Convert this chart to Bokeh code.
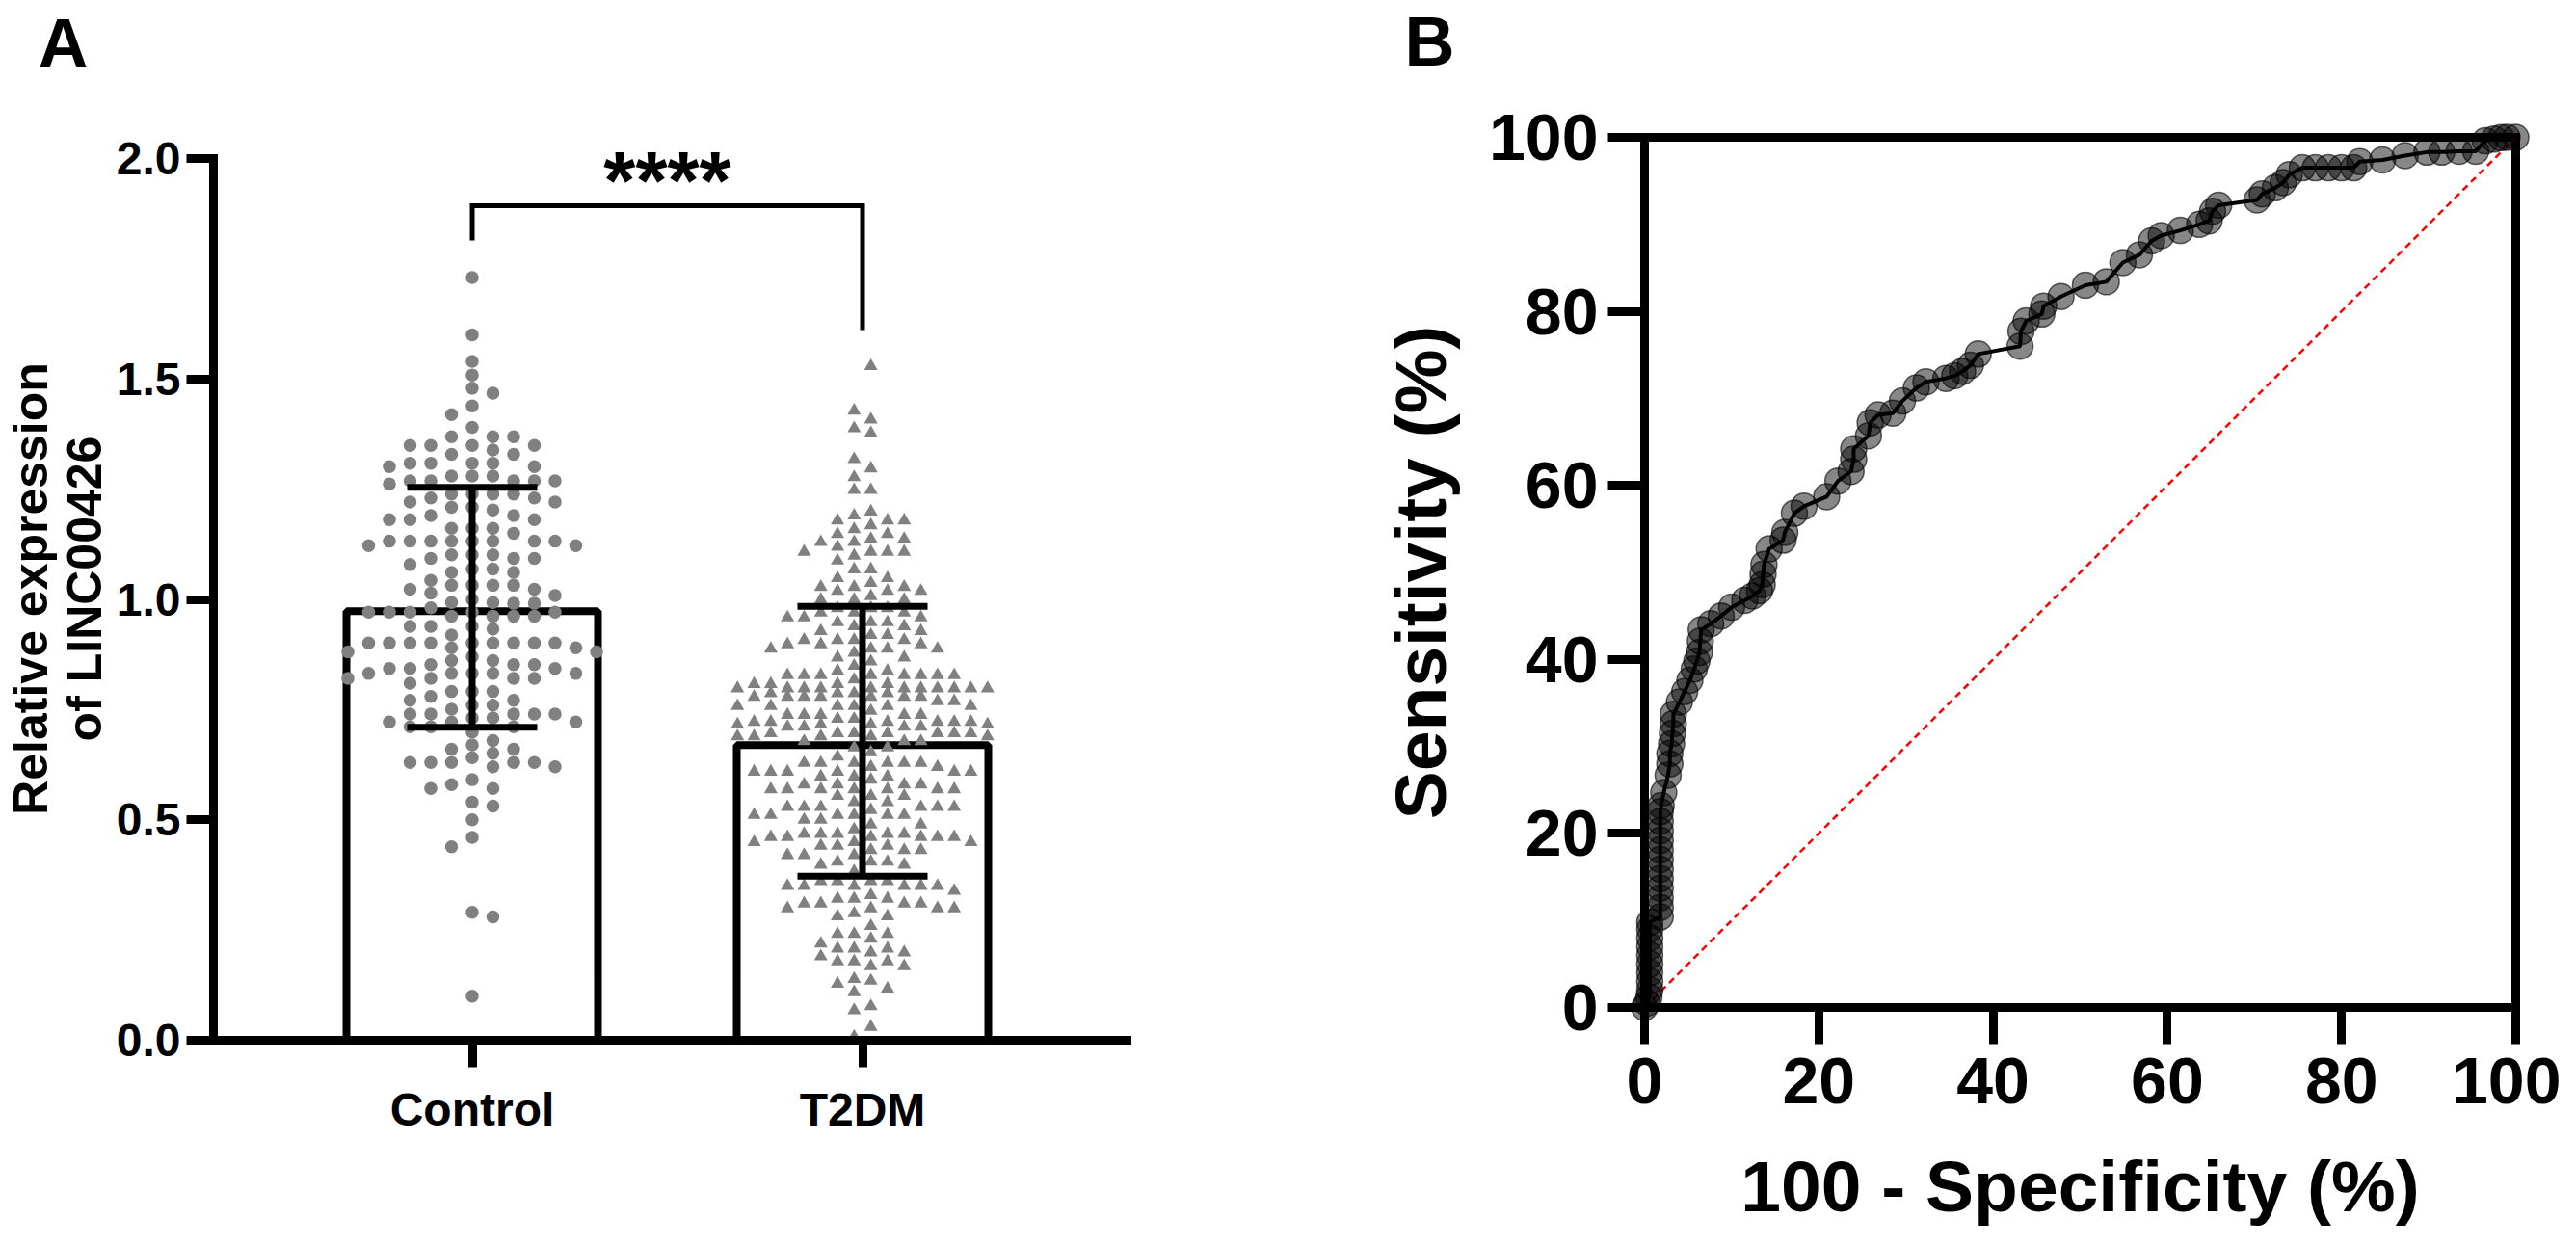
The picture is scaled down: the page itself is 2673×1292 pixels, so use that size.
import math
import numpy as np
from bokeh.plotting import figure
from bokeh.models import FixedTicker, Label, Range1d, PrintfTickFormatter, Title
from bokeh.layouts import row, column
from bokeh.embed import file_html
from bokeh.resources import INLINE

FONT = "Liberation Sans"

# ---------------- data ----------------
categories = ["Control", "T2DM"]

control_values = [
    1.730, 1.600, 1.540, 1.509, 1.479, 1.468, 1.439, 1.419, 1.390,
    1.369, 1.369, 1.369,
    1.349, 1.349, 1.349, 1.349,
    1.339,
    1.329, 1.329,
    1.309, 1.309, 1.309, 1.309,
    1.301, 1.301,
    1.280, 1.280, 1.280,
    1.269, 1.269, 1.269, 1.269, 1.269,
    1.262,
    1.239, 1.239, 1.239, 1.239,
    1.230, 1.230,
    1.221, 1.221,
    1.209, 1.209,
    1.203,
    1.190, 1.190,
    1.181, 1.181, 1.181,
    1.161, 1.161, 1.161,
    1.150,
    1.132, 1.132, 1.132, 1.132, 1.132, 1.132, 1.132, 1.132,
    1.122, 1.122,
    1.101, 1.101, 1.101,
    1.093, 1.093, 1.093,
    1.079,
    1.069, 1.069,
    1.061, 1.061,
    1.043,
    1.032, 1.032, 1.032, 1.032,
    1.023, 1.023,
    1.014, 1.009, 1.000,
    0.993, 0.993, 0.991, 0.991,
    0.981,
    0.971, 0.971, 0.971, 0.971, 0.971,
    0.962, 0.962, 0.962, 0.962,
    0.939, 0.939, 0.939,
    0.933, 0.919,
    0.901, 0.901, 0.901, 0.901, 0.901, 0.901, 0.901, 0.901, 0.901,
    0.890, 0.890,
    0.881, 0.881,
    0.870,
    0.861, 0.861,
    0.852, 0.852, 0.852,
    0.843, 0.843, 0.843,
    0.832, 0.832, 0.832, 0.832, 0.832,
    0.821, 0.821, 0.821, 0.821,
    0.810,
    0.791, 0.791, 0.791,
    0.780,
    0.771, 0.771,
    0.760, 0.760,
    0.751,
    0.740, 0.740, 0.740, 0.740, 0.740,
    0.731, 0.731,
    0.722, 0.722, 0.722,
    0.711, 0.711, 0.711,
    0.699, 0.680, 0.670, 0.660, 0.660, 0.651, 0.641,
    0.630, 0.630, 0.630, 0.630, 0.630,
    0.620, 0.620,
    0.591, 0.580, 0.571, 0.571, 0.540, 0.531, 0.500, 0.460, 0.439,
    0.290, 0.280, 0.100,
]

t2dm_values = [
    1.529, 1.428, 1.408, 1.388, 1.377, 1.318, 1.297, 1.277,
    1.248, 1.248, 1.199, 1.190,
    1.179, 1.179, 1.179, 1.168, 1.159,
    1.148, 1.148, 1.137, 1.137, 1.130, 1.130, 1.119,
    1.108, 1.108, 1.108, 1.108, 1.099, 1.088,
    1.068, 1.068, 1.048, 1.048, 1.037,
    1.028, 1.028, 1.028, 1.019, 1.019, 1.019, 1.007,
    0.999, 0.999, 0.999, 0.980, 0.980, 0.980,
    0.970, 0.970, 0.970, 0.959, 0.959, 0.959,
    0.948, 0.948, 0.948, 0.939, 0.939, 0.928, 0.928,
    0.919, 0.919, 0.908, 0.908, 0.908, 0.908,
    0.898, 0.898, 0.898, 0.888, 0.888, 0.888, 0.888,
    0.879, 0.868, 0.868, 0.859, 0.849, 0.838, 0.838,
    0.828, 0.828, 0.828, 0.828, 0.828, 0.828, 0.828, 0.828,
    0.818, 0.808, 0.808, 0.808, 0.808, 0.798, 0.798,
    0.798, 0.798, 0.798, 0.798, 0.798, 0.798, 0.798, 0.798, 0.798,
    0.787, 0.787, 0.787, 0.787,
    0.779, 0.779, 0.779, 0.779, 0.779, 0.779, 0.779,
    0.769, 0.769,
    0.758, 0.758, 0.758, 0.758, 0.758, 0.758,
    0.747,
    0.738, 0.738, 0.738, 0.738, 0.738,
    0.729, 0.729,
    0.722, 0.722, 0.722, 0.722, 0.722, 0.722,
    0.716, 0.716, 0.716, 0.716,
    0.711, 0.711, 0.711, 0.711,
    0.696, 0.696, 0.696, 0.696, 0.696, 0.696, 0.696,
    0.689, 0.689, 0.689, 0.689, 0.689,
    0.678, 0.678, 0.678,
    0.664, 0.664, 0.653, 0.643,
    0.629, 0.629, 0.629, 0.629, 0.629, 0.629,
    0.620, 0.620,
    0.609, 0.609, 0.609, 0.609, 0.609, 0.609,
    0.598, 0.598, 0.598, 0.591,
    0.580, 0.580, 0.580, 0.580,
    0.569, 0.569, 0.569, 0.569, 0.569, 0.569, 0.569,
    0.554, 0.554, 0.554, 0.540, 0.540,
    0.529, 0.529, 0.529, 0.529, 0.529, 0.529, 0.522,
    0.511, 0.511, 0.511, 0.511, 0.511, 0.511,
    0.500, 0.500, 0.489, 0.489, 0.478,
    0.468, 0.468, 0.468, 0.468, 0.468,
    0.461, 0.461, 0.461, 0.461, 0.461, 0.461,
    0.449, 0.449, 0.449, 0.441, 0.441, 0.441,
    0.431, 0.431, 0.431, 0.420, 0.420, 0.420,
    0.405, 0.405, 0.405, 0.398, 0.398, 0.383,
    0.361, 0.361, 0.361, 0.361,
    0.350, 0.350, 0.350, 0.350, 0.350, 0.350,
    0.339, 0.329, 0.321, 0.321, 0.321,
    0.310, 0.310, 0.310, 0.310,
    0.299, 0.299, 0.299, 0.299, 0.288, 0.281, 0.281,
    0.259, 0.241, 0.241, 0.241, 0.230, 0.219,
    0.208, 0.208, 0.208, 0.199, 0.199, 0.190,
    0.179, 0.179, 0.179, 0.168, 0.168,
    0.139, 0.135, 0.128, 0.117, 0.109, 0.077, 0.068, 0.030, 0.008,
]

group_means = [0.982, 0.678]
group_sds = [0.272, 0.306]
bracket_y = [1.814, 1.893, 1.893, 1.611]
significance_text = "****"
a_y_ticks = [0.0, 0.5, 1.0, 1.5, 2.0]
a_y_title = "Relative expression\nof LINC00426"

roc_fpr = [0.0, 0.3, 0.5, 0.6, 0.6, 0.6, 0.6, 0.6, 0.6, 0.6, 0.6, 0.6,
           1.8, 1.8, 1.8, 1.8, 1.8, 1.8, 1.8, 1.8, 1.8, 1.8, 1.8, 1.8, 1.9,
           2.2, 2.7, 2.9, 2.9, 3.1, 3.2, 3.3, 3.3, 4.0, 4.6, 5.2, 5.7, 6.0,
           6.3, 6.4, 6.5, 7.6, 8.8, 10.0, 11.5, 12.4, 13.2, 13.5, 13.6, 13.7,
           14.3, 15.9, 16.1, 17.2, 18.3, 20.9, 22.2, 23.7, 24.0, 24.0, 25.7,
           25.9, 26.8, 28.5, 29.6, 31.2, 32.3, 34.6, 35.6, 36.5, 37.4, 38.3,
           43.1, 43.2, 43.8, 45.6, 45.8, 47.8, 50.6, 53.0, 54.9, 56.8, 58.2,
           59.3, 61.5, 63.7, 64.8, 65.2, 65.9, 70.3, 70.9, 72.4, 73.3, 74.0,
           75.5, 77.0, 78.5, 80.0, 81.4, 82.1, 84.7, 87.3, 89.8, 91.5, 93.5,
           95.4, 96.5, 97.5, 98.3, 99.0, 100.0]
roc_tpr = [0.0, 0.5, 1.2, 2.0, 3.0, 4.0, 5.0, 6.0, 7.0, 8.0, 9.0, 9.8,
           10.4, 11.5, 12.6, 13.7, 14.8, 15.9, 17.0, 18.1, 19.2, 20.3, 21.4, 22.5, 23.2,
           24.7, 26.7, 28.0, 29.2, 30.3, 31.5, 32.6, 33.7, 35.1, 36.3, 37.6, 38.9, 39.8,
           40.8, 42.1, 43.4, 44.1, 45.0, 46.0, 46.8, 47.3, 47.9, 48.6, 49.8, 50.9,
           52.7, 53.7, 54.6, 56.8, 57.6, 58.7, 60.5, 61.6, 63.0, 64.2, 65.7,
           67.2, 68.1, 68.3, 69.7, 71.2, 71.9, 72.3, 72.6, 73.1, 73.8, 75.1,
           76.0, 77.7, 78.9, 79.7, 80.6, 81.7, 83.0, 83.4, 85.6, 86.5, 88.1,
           88.7, 89.3, 90.0, 90.4, 91.5, 92.2, 92.8, 93.5, 94.2, 94.8, 95.7,
           96.5, 96.5, 96.5, 96.5, 96.5, 97.2, 97.4, 97.9, 98.3, 98.3, 98.4,
           98.4, 99.6, 99.8, 99.96, 100.0, 100.0]
chance_line = [0, 100]
roc_ticks = [0, 20, 40, 60, 80, 100]
b_x_title = "100 - Specificity (%)"
b_y_title = "Sensitivity (%)"
panel_letters = ["A", "B"]

# ---------------- layout constants ----------------
PAGE_H = 1276
WA, WB = 1330, 1327
MID = 0.3465          # em offset from the middle line of a text to its baseline

# Panel A geometry (px)
A_BL, A_BT, A_BB = 221, 142, 197
A_FW = 948
A_FH = PAGE_H - A_BT - A_BB          # 937
A_PXY = 457.5                         # px per unit of expression
A_YMAX = A_FH / A_PXY
A_PXX = 405.0                         # px per category step
A_X0 = 1 - (497.5 - 229) / A_PXX
A_X1 = A_X0 + A_FW / A_PXX
A_BR = WA - A_BL - A_FW

# Panel B geometry: the frame fills the whole panel, the axes sit at 0
B_PXX, B_PXY = 9.04, 9.03             # px per percent
B_LEFT_PX = 1714 - (8 + WA)           # px from panel left edge to x = 0
B_TOP_PX = 150 - 8                    # px from panel top edge to y = 100
B_XMIN = -B_LEFT_PX / B_PXX
B_XMAX = B_XMIN + WB / B_PXX
B_YMAX = 100 + B_TOP_PX / B_PXY
B_YMIN = B_YMAX - PAGE_H / B_PXY


def b_sx(sx):
    return (sx - 1714) / B_PXX


def b_sy(sy):
    return 100 - (sy - 150) / B_PXY


def swarm(values, center, col_px, dmin_px, ncols):
    vals = np.asarray(values, dtype=float)
    order = np.argsort(-vals, kind="stable")
    half = ncols % 2 == 0
    nside = ncols // 2
    placed = {}
    xs = np.zeros(len(vals))
    toggle = 1
    for i in order:
        ypx = vals[i] * A_PXY
        cands = [] if half else [0.0]
        for k in range(nside):
            off = k + 0.5 if half else k + 1.0
            cands += [off, -off] if toggle > 0 else [-off, off]
        chosen, best, best_d = None, None, -1.0
        for c in cands:
            d = min([abs(ypx - yy) for yy in placed.get(c, [])], default=1e9)
            if d >= dmin_px:
                chosen = c
                break
            if d > best_d:
                best, best_d = c, d
        if chosen is None:
            chosen = best
        placed.setdefault(chosen, []).append(ypx)
        xs[i] = center + chosen * col_px / A_PXX
        if chosen != 0:
            toggle = -toggle
    return xs


def style_axis(ax, size, tick_out):
    ax.axis_line_width = 9
    ax.axis_line_color = "black"
    ax.major_tick_line_width = 9
    ax.major_tick_line_color = "black"
    ax.major_tick_out = tick_out
    ax.major_tick_in = 0
    ax.minor_tick_line_color = None
    ax.major_label_text_font = FONT
    ax.major_label_text_font_style = "bold"
    ax.major_label_text_font_size = size
    ax.major_label_text_color = "black"
    ax.axis_label_text_font = FONT
    ax.axis_label_text_font_style = "bold"
    ax.axis_label_text_color = "black"


def text_label(x, y, text, size, angle=0.0, align="center"):
    return Label(x=x, y=y, text=text, angle=angle, text_align=align, text_baseline="middle",
                 text_font=FONT, text_font_style="bold", text_font_size=f"{size}px",
                 text_color="black")


# ---------------- Panel A ----------------
pA = figure(width=WA, height=PAGE_H, x_range=Range1d(A_X0, A_X1), y_range=Range1d(0, A_YMAX),
            output_backend="svg", toolbar_location=None,
            min_border_left=A_BL, min_border_right=A_BR, min_border_top=A_BT, min_border_bottom=A_BB)
pA.outline_line_color = None
pA.grid.visible = False
pA.background_fill_color = "white"
pA.border_fill_color = "white"
# an invisible spacer title next to the frame lifts the panel letter towards the page top
pA.add_layout(Title(text=" ", text_font_size="40px", standoff=12), "above")
pA.add_layout(Title(text=panel_letters[0], align="left", offset=47 - 229, standoff=0,
                    text_font=FONT, text_font_style="bold", text_font_size="72px",
                    text_color="black"), "above")

xpos = [1, 2]
bar_lw = 8
bar_tops = [m - (bar_lw / 2) / A_PXY for m in group_means]
pA.vbar(x=xpos, top=bar_tops, bottom=0, width=261 / A_PXX, fill_color="white",
        line_color="black", line_width=bar_lw)

ctrl_x = swarm(control_values, xpos[0], 21.5, 13.0, 13)
t2_x = swarm(t2dm_values, xpos[1], 17.3, 11.5, 16)
pA.scatter(x=ctrl_x, y=control_values, marker="circle", size=13.5,
           fill_color="#808080", line_color=None)
pA.scatter(x=t2_x, y=t2dm_values, marker="triangle", size=14,
           fill_color="#808080", line_color=None)

cap_half = 67.5 / A_PXX
lo = [m - s for m, s in zip(group_means, group_sds)]
hi = [m + s for m, s in zip(group_means, group_sds)]
pA.segment(x0=xpos, y0=lo, x1=xpos, y1=hi, line_color="black", line_width=7)
pA.segment(x0=[x - cap_half for x in xpos], y0=hi, x1=[x + cap_half for x in xpos], y1=hi,
           line_color="black", line_width=7)
pA.segment(x0=[x - cap_half for x in xpos], y0=lo, x1=[x + cap_half for x in xpos], y1=lo,
           line_color="black", line_width=7)

pA.line(x=[xpos[0], xpos[0], xpos[1], xpos[1]], y=bracket_y, line_color="black",
        line_width=5, line_join="miter")
star_mid_px = 1087 - 195   # px above the x axis
pA.add_layout(text_label((xpos[0] + xpos[1]) / 2, star_mid_px / A_PXY, significance_text, 85))

style_axis(pA.yaxis[0], "48px", 28)
style_axis(pA.xaxis[0], "48px", 28)
pA.yaxis.ticker = FixedTicker(ticks=a_y_ticks)
pA.yaxis.formatter = PrintfTickFormatter(format="%.1f")
pA.yaxis.bounds = (0, 2)
pA.yaxis.axis_line_cap = "square"
pA.yaxis.major_label_standoff = 6
pA.yaxis.axis_label = a_y_title
pA.yaxis.axis_label_text_font_size = "50px"
pA.yaxis.axis_label_text_line_height = 1.0
pA.yaxis.axis_label_standoff = 2
pA.xaxis.ticker = FixedTicker(ticks=xpos)
pA.xaxis.major_label_overrides = {xpos[0]: categories[0], xpos[1]: categories[1]}
pA.xaxis.major_label_standoff = 17
pA.xaxis.axis_line_cap = "square"

# ---------------- Panel B ----------------
pB = figure(width=WB, height=PAGE_H, x_range=Range1d(B_XMIN, B_XMAX), y_range=Range1d(B_YMIN, B_YMAX),
            output_backend="svg", toolbar_location=None,
            min_border_left=0, min_border_right=0, min_border_top=0, min_border_bottom=0)
pB.grid.visible = False
pB.outline_line_color = None
pB.background_fill_color = "white"
pB.border_fill_color = "white"

lo_b, hi_b = roc_ticks[0], roc_ticks[-1]
# top and right edges of the square plotting box
pB.line(x=[lo_b, hi_b, hi_b], y=[hi_b, hi_b, lo_b], line_color="black", line_width=9,
        line_cap="square", line_join="miter")
pB.line(x=chance_line, y=chance_line, line_color="red", line_width=2.5, line_dash="7 5")
pB.line(x=roc_fpr, y=roc_tpr, line_color="black", line_width=4)
pB.scatter(x=roc_fpr, y=roc_tpr, marker="circle", size=27, fill_color="black", fill_alpha=0.47,
           line_color="black", line_alpha=0.6, line_width=1.5)

style_axis(pB.yaxis[0], "68px", 38)
style_axis(pB.xaxis[0], "68px", 38)
pB.xaxis.ticker = FixedTicker(ticks=roc_ticks)
pB.yaxis.ticker = FixedTicker(ticks=roc_ticks)
pB.xaxis.bounds = (lo_b, hi_b)
pB.yaxis.bounds = (lo_b, hi_b)
pB.xaxis.axis_line_cap = "square"
pB.yaxis.axis_line_cap = "square"
pB.xaxis.fixed_location = lo_b
pB.yaxis.fixed_location = lo_b
pB.yaxis.major_label_standoff = 10
pB.xaxis.major_label_standoff = 14

pB.add_layout(text_label(b_sx(2166), b_sy(1264 - MID * 75), b_x_title, 75))
pB.add_layout(text_label(b_sx(1507 - MID * 75), 50, b_y_title, 75, angle=math.pi / 2))
pB.add_layout(text_label(b_sx(1465), b_sy(75 - MID * 72), panel_letters[1], 72, align="left"))

layout = row(column(pA), column(pB))
with open("out.html", "w") as f:
    f.write(file_html(layout, INLINE))
